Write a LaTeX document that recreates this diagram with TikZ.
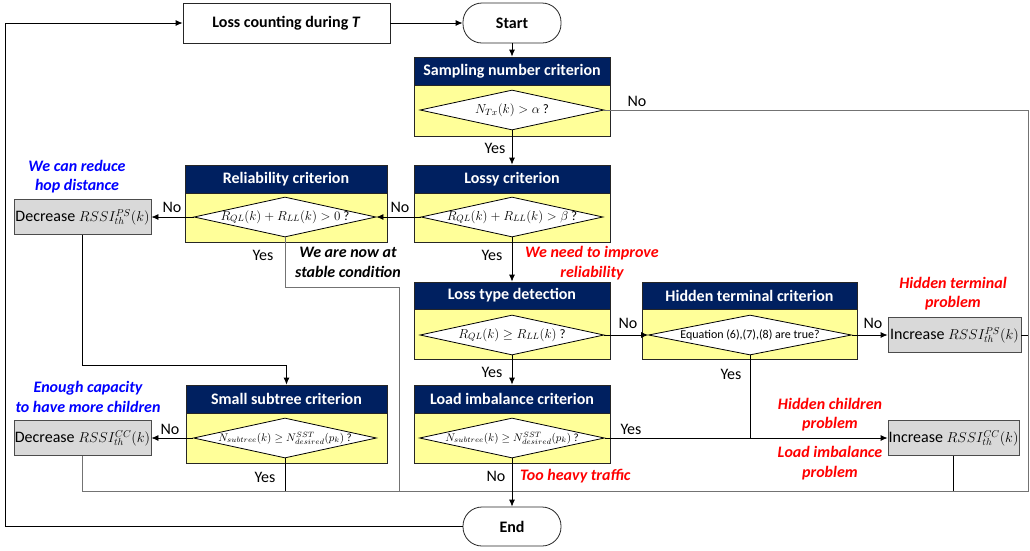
\documentclass[tikz,border=0pt]{standalone}
\usepackage{fix-cm}
\usepackage{fontspec}
\setmainfont{Carlito}
\usetikzlibrary{shapes.geometric,arrows.meta,calc}
\definecolor{navy}{HTML}{002060}
\definecolor{ylw}{HTML}{FFFF99}
\definecolor{gbox}{HTML}{D9D9D9}
\definecolor{rtxt}{HTML}{FF0000}
\definecolor{btxt}{HTML}{0000FF}
\newcommand{\mrs}[1]{{\fontsize{14.3}{16}\selectfont$#1$}}
\begin{document}
\begin{tikzpicture}[x=1pt,y=-1pt,
  hdr/.style={draw=black!85, fill=navy, text=white, font=\fontsize{16}{18}\selectfont\bfseries, inner sep=0pt, line width=0.8pt},
  bodyb/.style={draw=black!85, fill=ylw, inner sep=0pt, line width=0.8pt},
  dia/.style={diamond, draw=black, fill=white, inner sep=0pt, line width=0.8pt},
  dtxt/.style={font=\fontsize{13}{15}\selectfont, inner sep=0pt},
  stxt/.style={font=\fontsize{11}{13}\selectfont, inner sep=0pt},
  plainbox/.style={draw=black!85, fill=white, line width=0.8pt, inner sep=0pt, font=\fontsize{16}{18}\selectfont\bfseries},
  term/.style={draw=black!85, fill=white, line width=0.8pt, rounded corners=19pt, inner sep=0pt, font=\fontsize{16}{18}\selectfont\bfseries},
  gb/.style={draw=black!70, fill=gbox, line width=0.8pt, inner sep=0pt, font=\fontsize{16}{18}\selectfont},
  conn/.style={draw=black, line width=0.8pt},
  gconn/.style={draw=black!55, line width=0.8pt},
  arr/.style={conn, -{Latex[length=7pt,width=6pt]}},
  lbl/.style={font=\fontsize{16}{18}\selectfont, inner sep=1pt},
  rlbl/.style={font=\fontsize{16}{19.5}\selectfont\bfseries\itshape, text=rtxt, align=center, inner sep=0pt},
  blbl/.style={font=\fontsize{16}{19.5}\selectfont\bfseries\itshape, text=btxt, align=center, inner sep=0pt},
  klbl/.style={font=\fontsize{16}{19.5}\selectfont\bfseries\itshape, text=black, align=center, inner sep=0pt}
]
\useasboundingbox (0,0) rectangle (1030,550);
\fill[white] (0,0) rectangle (1030,550);

% helper coordinates
\coordinate (lpc) at (5,0);
\coordinate (rgt) at (1028,491);
\coordinate (stab) at (399,287);
\coordinate (ps2ss) at (0,365);

% top row
\node[plainbox, minimum width=207pt, minimum height=40pt] (loss) at (286.5,23) {Loss counting during \textit{T}};
\node[term, minimum width=98pt, minimum height=40pt] (start) at (512,23) {Start};

% Sampling number criterion
\node[bodyb, minimum width=196pt, minimum height=51pt] (samB) at (512,110.5) {};
\node[hdr, minimum width=196pt, minimum height=28pt] (samH) at (512,71) {Sampling number criterion};
\node[dia, minimum width=184pt, minimum height=40pt] (samD) at (512,110) {};
\node[dtxt] (samT) at (samD) {$N_{Tx}(k) > \alpha$ ?};

% Lossy criterion
\node[bodyb, minimum width=196pt, minimum height=49pt] (lossyB) at (512,217.5) {};
\node[hdr, minimum width=196pt, minimum height=28pt] (lossyH) at (512,179) {Lossy criterion};
\node[dia, minimum width=182pt, minimum height=40pt] (lossyD) at (512,217) {};
\node[dtxt] (lossyT) at (lossyD) {$R_{QL}(k) + R_{LL}(k) > \beta$ ?};

% Reliability criterion
\node[bodyb, minimum width=202pt, minimum height=49pt] (relB) at (286,217.5) {};
\node[hdr, minimum width=202pt, minimum height=28pt] (relH) at (286,179) {Reliability criterion};
\node[dia, minimum width=182pt, minimum height=40pt] (relD) at (285,217) {};
\node[dtxt] (relT) at (relD) {$R_{QL}(k) + R_{LL}(k) > 0$ ?};

\node[gb, minimum width=137pt, minimum height=35pt] (decPS) at (82.5,217) {Decrease \mrs{RSSI_{th}^{PS}(k)}};

% Loss type detection
\node[bodyb, minimum width=196pt, minimum height=50pt] (ltB) at (512,334) {};
\node[hdr, minimum width=196pt, minimum height=27pt] (ltH) at (512,295.5) {Loss type detection};
\node[dia, minimum width=184pt, minimum height=40pt] (ltD) at (512,335) {};
\node[dtxt] (ltT) at (ltD) {$R_{QL}(k) \geq R_{LL}(k)$ ?};

% Hidden terminal criterion
\node[bodyb, minimum width=215pt, minimum height=50pt] (hidB) at (749.5,334) {};
\node[hdr, minimum width=215pt, minimum height=27pt] (hidH) at (749.5,295.5) {Hidden terminal criterion};
\node[dia, minimum width=203pt, minimum height=40pt] (hidD) at (750,335) {};
\node[font=\fontsize{12}{14}\selectfont, inner sep=0pt] (hidT) at (hidD) {Equation (6),(7),(8) are true?};

\node[gb, minimum width=133pt, minimum height=35pt] (incPS) at (954.5,335) {Increase \mrs{RSSI_{th}^{PS}(k)}};

% Small subtree criterion
\node[bodyb, minimum width=201pt, minimum height=50pt] (ssB) at (286.5,438) {};
\node[hdr, minimum width=201pt, minimum height=28pt] (ssH) at (286.5,399) {Small subtree criterion};
\node[dia, minimum width=183pt, minimum height=40pt] (ssD) at (285,438) {};
\node[stxt] (ssT) at (ssD) {$N_{subtree}(k) \geq N_{desired}^{SST}(p_k)$ ?};

% Load imbalance criterion
\node[bodyb, minimum width=196pt, minimum height=50pt] (liB) at (512,438) {};
\node[hdr, minimum width=196pt, minimum height=28pt] (liH) at (512,399) {Load imbalance criterion};
\node[dia, minimum width=185pt, minimum height=40pt] (liD) at (512,438) {};
\node[stxt] (liT) at (liD) {$N_{subtree}(k) \geq N_{desired}^{SST}(p_k)$ ?};

\node[gb, minimum width=137pt, minimum height=35pt] (decCC) at (82.5,438) {Decrease \mrs{RSSI_{th}^{CC}(k)}};
\node[gb, minimum width=131pt, minimum height=35pt] (incCC) at (953.5,438) {Increase \mrs{RSSI_{th}^{CC}(k)}};

\node[term, minimum width=98pt, minimum height=39pt] (end) at (512,526.5) {End};

% connectors
\draw[arr] (end.west) -- (end.west -| lpc) |- (loss.west);
\draw[arr] (loss.east) -- (start.west);
\draw[arr] (start.south) -- (samH.north);
\draw[arr] (samD.south) -- (lossyH.north);
\draw[gconn] (samD.east) -| (rgt) -| (decCC.south);
\draw[arr] (lossyD.west) -- (relD.east);
\draw[arr] (relD.west) -- (decPS.east);
\draw[gconn] (relD.south) |- (stab) -- (stab |- rgt);
\draw[arr] (lossyD.south) -- (ltH.north);
\draw[arr] (decPS.south) -- (decPS.south |- ps2ss) -| (ssH.north);
\draw[arr] (ltD.east) -- (hidD.west);
\draw[arr] (hidD.east) -- (incPS.west);
\draw[conn] (incPS.east) -- (incPS.east -| rgt);
\draw[arr] (ltD.south) -- (liH.north);
\draw[conn] (hidD.south) -- (hidD.south |- liD.east);
\draw[arr] (liD.east) -- (incCC.west);
\draw[arr] (ssD.west) -- (decCC.east);
\draw[conn] (ssD.south) -- (ssD.south |- rgt);
\draw[conn] (incCC.south) -- (incCC.south |- rgt);
\draw[arr] (liD.south) -- (end.north);

% Yes / No labels
\node[lbl] (l1) at (495,148) {Yes};
\node[lbl] (l2) at (637,101) {No};
\node[lbl] (l3) at (400,207) {No};
\node[lbl] (l4) at (172,207) {No};
\node[lbl] (l5) at (263,255) {Yes};
\node[lbl] (l6) at (492,255) {Yes};
\node[lbl] (l7) at (628,323) {No};
\node[lbl] (l8) at (873,323) {No};
\node[lbl] (l9) at (731,374) {Yes};
\node[lbl] (l10) at (492,372) {Yes};
\node[lbl] (l11) at (631,429) {Yes};
\node[lbl] (l12) at (170,429) {No};
\node[lbl] (l13) at (265,477) {Yes};
\node[lbl] (l14) at (496,476) {No};

% annotations
\node[blbl] (a1) at (77,176.5) {We can reduce\\hop distance};
\node[klbl] (a2) at (348,262.5) {We are now at\\stable condition};
\node[rlbl] (a3) at (592,263) {We need to improve\\reliability};
\node[rlbl] (a4) at (953,293.5) {Hidden terminal\\problem};
\node[rlbl] (a5) at (830,414.5) {Hidden children\\problem};
\node[rlbl] (a6) at (830,463) {Load imbalance\\problem};
\node[rlbl, anchor=west] (a7) at (520,476) {Too heavy traffic};
\node[blbl] (a8) at (88,397) {Enough capacity\\to have more children};
\end{tikzpicture}
\end{document}
